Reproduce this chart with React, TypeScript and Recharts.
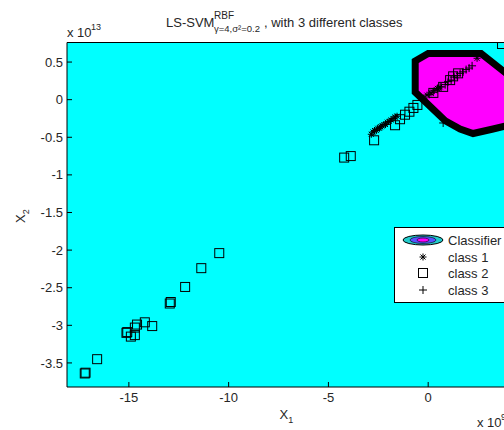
import { ScatterChart, Scatter, XAxis, YAxis, CartesianGrid } from 'recharts';

// axis ticks (x in 1e9, y in 1e13)
const xTicks = [-15, -10, -5, 0];
const yTicks = [-3.5, -3, -2.5, -2, -1.5, -1, -0.5, 0, 0.5];

// class 1 (*)
const class1X = [-2.85, -2.76, -2.69, -2.6, -2.53, -2.44, -2.38, -2.31, -2.22, -2.14, -2.05, -1.96, -1.86, -1.76, -1.66, -1.56, -0.25, -0.06, 0.14, 0.3, 0.46, 0.6, 2.45];
const class1Y = [-0.46, -0.43, -0.41, -0.41, -0.38, -0.38, -0.36, -0.35, -0.33, -0.33, -0.3, -0.29, -0.27, -0.25, -0.23, -0.22, 0.02, 0.06, 0.09, 0.12, 0.15, 0.17, 0.55];

// class 2 (square)
const class2X = [-17.21, -17.17, -16.59, -15.12, -15.08, -14.9, -14.7, -14.7, -14.59, -14.2, -13.83, -12.95, -12.9, -12.18, -11.37, -10.47, -4.21, -3.88, -2.71, -1.66, -1.41, -1.16, -0.94, -0.74, -0.54, 0.26, 0.75, 1.1, 1.25, 1.5, 3.7];
const class2Y = [-3.64, -3.63, -3.45, -3.1, -3.09, -3.15, -3.13, -3.03, -2.99, -2.96, -3.01, -2.71, -2.69, -2.49, -2.24, -2.04, -0.77, -0.75, -0.54, -0.34, -0.26, -0.2, -0.16, -0.11, -0.07, 0.09, 0.17, 0.26, 0.31, 0.35, 0.74];

// class 3 (+)
const class3X = [0.05, 0.25, 0.45, 0.65, 0.85, 1.0, 1.15, 1.3, 1.45, 1.6, 1.75, 1.9, 2.05, 2.2, 0.75];
const class3Y = [0.07, 0.1, 0.14, 0.17, 0.2, 0.24, 0.26, 0.3, 0.32, 0.35, 0.37, 0.4, 0.42, 0.45, -0.31];

// classifier boundary (closed, right part runs past the visible edge)
const boundaryX = [0.0, 2.65, 5.1, 5.6, 5.1, 3.9, 3.25, 2.25, 1.6, 0.85, -0.65, -0.65, 0.0];
const boundaryY = [0.614, 0.614, 0.1, -0.05, -0.25, -0.35, -0.39, -0.45, -0.39, -0.28, 0.1, 0.515, 0.614];

const zip = (xs: number[], ys: number[]) => xs.map((x, i) => ({ x, y: ys[i] }));
const class1 = zip(class1X, class1Y);
const class2 = zip(class2X, class2Y);
const class3 = zip(class3X, class3Y);
const boundary = zip(boundaryX, boundaryY);

const FONT = '"Liberation Sans", Arial, sans-serif';
const TXT = '#262626';

const Square = (p: any) => (
  <rect x={p.cx - 4.5} y={p.cy - 4.5} width={9} height={9} fill="none" stroke="#000" strokeWidth={1} />
);

const Star = (p: any) => {
  const r = 3.5;
  const d = 2.5;
  return (
    <g stroke="#000" strokeWidth={1}>
      <line x1={p.cx - r} y1={p.cy} x2={p.cx + r} y2={p.cy} />
      <line x1={p.cx} y1={p.cy - r} x2={p.cx} y2={p.cy + r} />
      <line x1={p.cx - d} y1={p.cy - d} x2={p.cx + d} y2={p.cy + d} />
      <line x1={p.cx - d} y1={p.cy + d} x2={p.cx + d} y2={p.cy - d} />
    </g>
  );
};

const Plus = (p: any) => {
  const r = 4;
  return (
    <g stroke="#000" strokeWidth={1}>
      <line x1={p.cx - r} y1={p.cy} x2={p.cx + r} y2={p.cy} />
      <line x1={p.cx} y1={p.cy - r} x2={p.cx} y2={p.cy + r} />
    </g>
  );
};

const NoDot = () => <g />;

const BoundaryPath = (p: any) => {
  const d = p.points.map((pt: any, i: number) => `${i ? 'L' : 'M'}${pt.x},${pt.y}`).join(' ') + ' Z';
  return <path d={d} fill="#ff00ff" stroke="#000" strokeWidth={7} strokeLinejoin="miter" />;
};

function Legend() {
  return (
    <g fontSize={13} fill={TXT}>
      <rect x={394.5} y={227.5} width={130} height={75} fill="#fff" stroke="#000" />
      <ellipse cx={423} cy={240} rx={20} ry={5} fill="#22cccc" stroke="#000" />
      <ellipse cx={423} cy={240} rx={13} ry={3.5} fill="#5555ff" stroke="#000" strokeWidth={0.6} />
      <ellipse cx={423} cy={240} rx={6} ry={2} fill="#ff00ff" stroke="#000" strokeWidth={0.6} />
      <text x={448} y={244.5}>Classifier</text>
      <Star cx={423} cy={257} />
      <text x={448} y={261.5}>class 1</text>
      <Square cx={423} cy={273} />
      <text x={448} y={277.5}>class 2</text>
      <Plus cx={423} cy={290} />
      <text x={448} y={294.5}>class 3</text>
    </g>
  );
}

export default function App() {
  const axisTick = { fill: TXT, fontSize: 13, fontFamily: FONT };
  return (
    <div style={{ position: 'absolute', left: 0, top: 0, width: 504, height: 430, overflow: 'hidden', background: '#fff', fontFamily: FONT }}>
      <ScatterChart width={530} height={430} margin={{ top: 41.5, right: 22, bottom: 13, left: 27 }}>
        <CartesianGrid fill="#00ffff" horizontal={false} vertical={false} stroke="none" />
        <Scatter data={boundary} shape={NoDot} line={BoundaryPath} isAnimationActive={false} />
        <Scatter data={class2} shape={Square} isAnimationActive={false} />
        <Scatter data={class1} shape={Star} isAnimationActive={false} />
        <Scatter data={class3} shape={Plus} isAnimationActive={false} />
        <XAxis
          type="number"
          dataKey="x"
          domain={[-18.1, 4.0]}
          ticks={xTicks}
          interval={0}
          allowDataOverflow
          height={30}
          tickSize={-5}
          tickMargin={11}
          tick={axisTick}
          axisLine={{ stroke: '#000' }}
          tickLine={{ stroke: '#000' }}
        />
        <XAxis
          xAxisId="top"
          orientation="top"
          type="number"
          dataKey="x"
          domain={[-18.1, 4.0]}
          ticks={xTicks}
          interval={0}
          allowDataOverflow
          height={1}
          tickSize={-5}
          tick={false}
          axisLine={{ stroke: '#000' }}
          tickLine={{ stroke: '#000' }}
        />
        <YAxis
          type="number"
          dataKey="y"
          domain={[-3.82, 0.76]}
          ticks={yTicks}
          interval={0}
          allowDataOverflow
          width={40}
          tickSize={-5}
          tickMargin={9}
          tick={axisTick}
          axisLine={{ stroke: '#000' }}
          tickLine={{ stroke: '#000' }}
        />
      </ScatterChart>
      <svg width={504} height={430} style={{ position: 'absolute', left: 0, top: 0, pointerEvents: 'none' }} fontFamily={FONT}>
        <text x={166} y={26.5} fontSize={13} fill={TXT}>LS-SVM</text>
        <text x={214} y={18.5} fontSize={10} fill={TXT}>RBF</text>
        <text x={214} y={31.5} fontSize={9.5} fill={TXT}>γ=4,σ²=0.2</text>
        <text x={264} y={26.5} fontSize={13} fill={TXT}>, with 3 different classes</text>
        <text x={67} y={37} fontSize={13} fill={TXT}>x 10</text>
        <text x={91} y={30} fontSize={9} fill={TXT}>13</text>
        <text x={477} y={427} fontSize={13} fill={TXT}>x 10</text>
        <text x={501} y={420} fontSize={9} fill={TXT}>9</text>
        <text x={279.5} y={418.5} fontSize={13} fill={TXT}>X<tspan fontSize={9} dy={4}>1</tspan></text>
        <text transform="translate(25,223) rotate(-90)" fontSize={13} fill={TXT}>X<tspan fontSize={9} dy={4}>2</tspan></text>
        <Legend />
      </svg>
    </div>
  );
}
